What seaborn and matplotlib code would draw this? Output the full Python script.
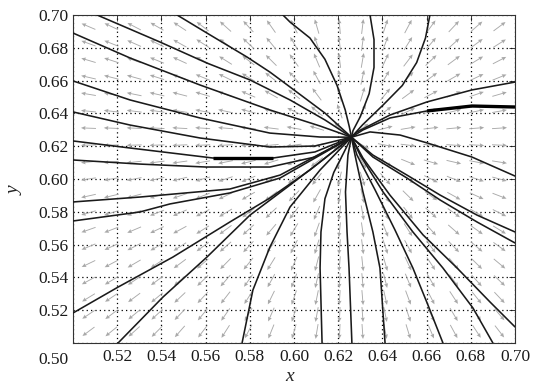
import numpy as np
import pandas as pd
import matplotlib
matplotlib.use("Agg")
import matplotlib.pyplot as plt
import seaborn as sns

sns.set_theme(style="white")
plt.rcParams["font.family"] = ["Liberation Serif", "DejaVu Serif"]

# ---- data ----
node_x, node_y = 0.626, 0.6255          # point where all trajectories meet
field_cx, field_cy = 0.625, 0.625       # centre of the (radial) direction field

tick_values = [0.50, 0.52, 0.54, 0.56, 0.58, 0.60, 0.62, 0.64, 0.66, 0.68, 0.70]
tick_labels = ["0.50", "0.52", "0.54", "0.56", "0.58", "0.60", "0.62", "0.64", "0.66", "0.68", "0.70"]

# trajectories (points from the boundary toward the node)
L1_x = [0.500, 0.5258, 0.5575, 0.5891, 0.6118]; L1_y = [0.6890, 0.6738, 0.6573, 0.6421, 0.6323]
L2_x = [0.500, 0.5258, 0.5575, 0.5891, 0.6118]; L2_y = [0.6598, 0.6482, 0.6372, 0.6280, 0.6256]
L3_x = [0.500, 0.5258, 0.5575, 0.5891, 0.6095]; L3_y = [0.6409, 0.6329, 0.6250, 0.6195, 0.6201]
L4_x = [0.500, 0.5258, 0.5633, 0.5905, 0.6095]; L4_y = [0.6232, 0.6189, 0.6128, 0.6128, 0.6165]
L5_x = [0.500, 0.5303, 0.5602, 0.5891, 0.6095]; L5_y = [0.6116, 0.6091, 0.6073, 0.6073, 0.6134]
L6_x = [0.500, 0.5303, 0.5710, 0.5937]; L6_y = [0.5860, 0.5890, 0.5939, 0.6024]
L7_x = [0.500, 0.5303, 0.5439, 0.5710, 0.5937]; L7_y = [0.5744, 0.5799, 0.5848, 0.5915, 0.6006]
L8_x = [0.500, 0.5204, 0.5452, 0.5710, 0.5891, 0.6072]; L8_y = [0.5183, 0.5341, 0.5524, 0.5738, 0.5884, 0.6055]
B1_x = [0.5204, 0.5407, 0.5606, 0.5801, 0.5982, 0.6118]; B1_y = [0.500, 0.5280, 0.5524, 0.5780, 0.5963, 0.6104]
B2_x = [0.5765, 0.5814, 0.5891, 0.5982, 0.6118]; B2_y = [0.500, 0.5323, 0.5585, 0.5829, 0.6055]
B3_x = [0.6127, 0.6118, 0.6122, 0.6140, 0.6180, 0.6225]; B3_y = [0.500, 0.5457, 0.5677, 0.5880, 0.6040, 0.6160]
B4_x = [0.6262, 0.6249, 0.6240, 0.6233, 0.6244]; B4_y = [0.500, 0.5457, 0.5677, 0.5921, 0.6146]
B5_x = [0.6412, 0.6389, 0.6357, 0.6312, 0.6276]; B5_y = [0.500, 0.5457, 0.5677, 0.5921, 0.6146]
B6_x = [0.6674, 0.6606, 0.6538, 0.6457, 0.6367, 0.6285]; B6_y = [0.500, 0.5232, 0.5457, 0.5689, 0.5933, 0.6146]
B7_x = [0.6900, 0.6810, 0.6674, 0.6538, 0.6403, 0.6299]; B7_y = [0.500, 0.5213, 0.5457, 0.5677, 0.5921, 0.6146]
T1_x = [0.5109, 0.5394, 0.5606, 0.5801, 0.5982, 0.6140]; T1_y = [0.700, 0.6835, 0.6707, 0.6604, 0.6482, 0.6360]
T2_x = [0.5471, 0.5606, 0.5787, 0.5891, 0.5982, 0.6140]; T2_y = [0.700, 0.6890, 0.6744, 0.6652, 0.6561, 0.6402]
T3_x = [0.5950, 0.5982, 0.6072, 0.6140, 0.6195, 0.6232, 0.6250]; T3_y = [0.700, 0.6957, 0.6860, 0.6730, 0.6570, 0.6420, 0.6320]
T4_x = [0.6344, 0.6362, 0.6362, 0.6340, 0.6300, 0.6267]; T4_y = [0.700, 0.6850, 0.6680, 0.6520, 0.6380, 0.6295]
T5_x = [0.6615, 0.6595, 0.6555, 0.6490, 0.6403, 0.6310]; T5_y = [0.700, 0.6860, 0.6710, 0.6570, 0.6451, 0.6330]
R1_x = [0.700, 0.6805, 0.6602, 0.6434, 0.6285]; R1_y = [0.6591, 0.6543, 0.6470, 0.6390, 0.6287]
R2_x = [0.700, 0.6805, 0.6602, 0.6434, 0.6312]; R2_y = [0.6439, 0.6445, 0.6415, 0.6372, 0.6299]
R3_x = [0.700, 0.6805, 0.6602, 0.6480, 0.6344]; R3_y = [0.6018, 0.6134, 0.6220, 0.6268, 0.6287]
R4_x = [0.700, 0.6828, 0.6661, 0.6511, 0.6357]; R4_y = [0.5677, 0.5780, 0.5902, 0.6024, 0.6146]
R5_x = [0.700, 0.6828, 0.6661, 0.6511, 0.6357]; R5_y = [0.5610, 0.5738, 0.5872, 0.6006, 0.6134]
R6_x = [0.700, 0.6887, 0.6738, 0.6584, 0.6434, 0.6312]; R6_y = [0.5098, 0.5250, 0.5457, 0.5659, 0.5902, 0.6128]

curves = {
    "L1": (L1_x, L1_y), "L2": (L2_x, L2_y), "L3": (L3_x, L3_y), "L4": (L4_x, L4_y),
    "L5": (L5_x, L5_y), "L6": (L6_x, L6_y), "L7": (L7_x, L7_y), "L8": (L8_x, L8_y),
    "B1": (B1_x, B1_y), "B2": (B2_x, B2_y), "B3": (B3_x, B3_y), "B4": (B4_x, B4_y),
    "B5": (B5_x, B5_y), "B6": (B6_x, B6_y), "B7": (B7_x, B7_y),
    "T1": (T1_x, T1_y), "T2": (T2_x, T2_y), "T3": (T3_x, T3_y), "T4": (T4_x, T4_y),
    "T5": (T5_x, T5_y),
    "R1": (R1_x, R1_y), "R2": (R2_x, R2_y), "R3": (R3_x, R3_y), "R4": (R4_x, R4_y),
    "R5": (R5_x, R5_y), "R6": (R6_x, R6_y),
}
# portions that look doubled (thick) in the reference: (curve, x range)
thick_parts = [("L4", 0.563, 0.591), ("R2", 0.660, 0.700)]

rows = []
for name, (xs, ys) in curves.items():
    pts = list(zip(xs, ys)) + [(node_x, node_y)]
    for i, (xv, yv) in enumerate(pts):
        rows.append({"curve": name, "order": i, "x": xv, "y": yv})
df = pd.DataFrame(rows)

# ---- figure ----
W, H = 533, 385
fig = plt.figure(figsize=(W / 100, H / 100), dpi=100)
ax_l, ax_r, ax_t, ax_b = 73, 515, 15, 343
ax = fig.add_axes([ax_l / W, 1 - ax_b / H, (ax_r - ax_l) / W, (ax_b - ax_t) / H])
ax.set_xlim(0.50, 0.70)
ax.set_ylim(0.50, 0.70)

# direction field (normalised arrows)
grid = np.linspace(0.507, 0.693, 19)
GX, GY = np.meshgrid(grid, grid)
px_per_x = (ax_r - ax_l) / 0.2
px_per_y = (ax_b - ax_t) / 0.2
SX = (GX - field_cx) * px_per_x
SY = (GY - field_cy) * px_per_y
N = np.hypot(SX, SY)
ax.quiver(GX, GY, SX / N, SY / N, angles="uv", pivot="middle",
          units="dots", scale_units="dots", scale=1 / 15.0,
          width=0.9, headwidth=4.5, headlength=5, headaxislength=4.5,
          color="#a9a9a9", zorder=1)

sns.lineplot(data=df, x="x", y="y", units="curve", estimator=None, sort=False,
             color="#1a1a1a", linewidth=1.15, ax=ax, legend=False, zorder=3)

for name, x0, x1 in thick_parts:
    sub = df[(df.curve == name) & (df.x >= x0 - 1e-9) & (df.x <= x1 + 1e-9)]
    ax.plot(sub.x, sub.y, color="#000000", linewidth=2.4, zorder=4,
            solid_capstyle="butt")

ax.set_xlim(0.50, 0.70)
ax.set_ylim(0.50, 0.70)
ax.set_xticks(tick_values)
ax.set_yticks(tick_values)
ax.set_xticklabels([""] + tick_labels[1:])
ax.set_yticklabels([""] + tick_labels[1:])
ax.tick_params(direction="in", length=4, width=0.6, top=True, right=True,
               labelsize=12.5, colors="#1a1a1a", pad=4)
ax.tick_params(axis="y", pad=3)
ax.grid(True, linestyle=(0, (1, 2.5)), color="#000000", linewidth=0.9)
for s in ax.spines.values():
    s.set_color("#333333")
    s.set_linewidth(0.8)
    s.set_visible(True)

# shared corner label
ax.text((53 - ax_l) / (ax_r - ax_l), -(352 - ax_b) / (ax_b - ax_t), tick_labels[0],
        transform=ax.transAxes, ha="center", va="top", fontsize=12.5, color="#1a1a1a")

ax.set_xlabel("x", fontsize=14, style="italic")
ax.set_ylabel("y", fontsize=14, style="italic")
ax.xaxis.set_label_coords((290 - ax_l) / (ax_r - ax_l), -(368 - ax_b) / (ax_b - ax_t))
ax.yaxis.set_label_coords((24 - ax_l) / (ax_r - ax_l), (ax_b - 191) / (ax_b - ax_t))

fig.savefig("out.png", dpi=100)
